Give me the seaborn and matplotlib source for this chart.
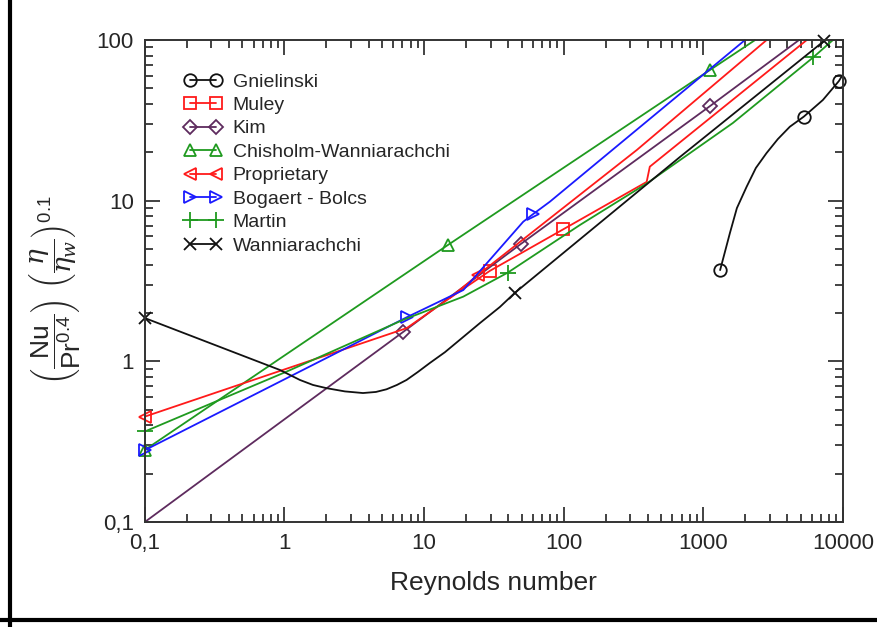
import matplotlib
matplotlib.use("Agg")
import matplotlib.pyplot as plt
import pandas as pd
import seaborn as sns
from matplotlib.lines import Line2D
from matplotlib.ticker import FixedLocator, FixedFormatter, LogLocator, NullFormatter

# values (Reynolds number vs. Nusselt group)
gnielinski_re = [1320, 1429, 1552, 1741, 2042, 2381, 2838, 3420, 4170, 5250, 7190, 9360, 9770]
gnielinski_nu = [3.7, 4.8, 6.3, 9.0, 12.2, 16.0, 19.8, 24.2, 28.9, 33.4, 42.4, 55.6, 59.1]
gnielinski_marks = [0, 9, 11]

muley_re = [15.3, 29.6, 99.3, 393, 414, 5500]
muley_nu = [2.48, 3.66, 6.64, 13.1, 16.3, 100]
muley_marks = [1, 2]

kim_re = [0.1, 7.05, 49.3, 1115, 4840]
kim_nu = [0.1, 1.52, 5.38, 38.8, 100]
kim_marks = [1, 2, 3]

chisholm_re = [0.1, 14.8, 1115, 2345]
chisholm_nu = [0.281, 5.3, 65.1, 100]
chisholm_marks = [0, 1, 2]

prop_re = [0.1, 7.5, 15.3, 24.3, 334, 2838]
prop_nu = [0.453, 1.61, 2.48, 3.45, 20.7, 100]
prop_marks = [0, 3]

bogaert_re = [0.1, 7.5, 19.1, 51.3, 60.4, 79.6, 1986]
bogaert_nu = [0.28, 1.88, 2.78, 7.4, 8.26, 9.86, 100]
bogaert_marks = [0, 1, 4]

martin_re = [0.1, 1.035, 7.05, 19.1, 39.8, 130.6, 393, 1630, 6120, 8470]
martin_nu = [0.366, 0.863, 1.81, 2.53, 3.57, 7.06, 12.8, 30.5, 78.0, 100]
martin_marks = [0, 4, 8]

wann_re = [0.1, 0.927, 1.29, 1.60, 2.0, 2.71, 3.65, 4.52, 5.38, 6.39, 7.49, 9.03,
           11.0, 14.1, 18.0, 25.1, 34.9, 44.7, 679, 7310]
wann_nu = [1.86, 0.884, 0.766, 0.713, 0.681, 0.650, 0.635, 0.645, 0.67, 0.713, 0.766, 0.859,
           0.977, 1.14, 1.36, 1.73, 2.18, 2.67, 18.7, 98.6]
wann_marks = [0, 17, 19]

x_ticks = [0.1, 1, 10, 100, 1000, 10000]
x_labels = ["0,1", "1", "10", "100", "1000", "10000"]
y_ticks = [0.1, 1, 10, 100]
y_labels = ["0,1", "1", "10", "100"]

RED = "#ff1a1a"
GREEN = "#1f9a1f"
BLUE = "#1a1aff"
PURPLE = "#5e2b5e"
BLACK = "#111111"

series = [
    ("Gnielinski", gnielinski_re, gnielinski_nu, gnielinski_marks, BLACK, "o", 9),
    ("Muley", muley_re, muley_nu, muley_marks, RED, "s", 8.5),
    ("Kim", kim_re, kim_nu, kim_marks, PURPLE, "D", 7),
    ("Chisholm-Wanniarachchi", chisholm_re, chisholm_nu, chisholm_marks, GREEN, "^", 9),
    ("Proprietary", prop_re, prop_nu, prop_marks, RED, "<", 9),
    ("Bogaert - Bolcs", bogaert_re, bogaert_nu, bogaert_marks, BLUE, ">", 9),
    ("Martin", martin_re, martin_nu, martin_marks, GREEN, "+", 11),
    ("Wanniarachchi", wann_re, wann_nu, wann_marks, BLACK, "x", 8),
]

sns.set_theme(style="ticks")
plt.rcParams["font.family"] = ["Liberation Sans", "DejaVu Sans"]
plt.rcParams["mathtext.fontset"] = "custom"
plt.rcParams["mathtext.rm"] = "Liberation Sans"
plt.rcParams["mathtext.it"] = "DejaVu Serif:italic"

fig = plt.figure(figsize=(8.78, 6.27), dpi=100)
ax = fig.add_axes([0.165, 0.1675, 0.795, 0.7685])

handles = []
for name, re, nu, marks, color, mk, ms in series:
    df = pd.DataFrame({"Re": re, "Nu": nu})
    sns.lineplot(data=df, x="Re", y="Nu", ax=ax, color=color, lw=1.3,
                 sort=False, estimator=None, marker=mk, markevery=marks,
                 markersize=ms, markerfacecolor="none", markeredgecolor=color,
                 markeredgewidth=1.3, clip_on=False)
    handles.append(Line2D([], [], color=color, lw=1.3, marker=mk, markersize=ms,
                          markerfacecolor="none", markeredgecolor=color,
                          markeredgewidth=1.3, label=name))

ax.set_xscale("log")
ax.set_yscale("log")
ax.set_xlim(0.1, 10000)
ax.set_ylim(0.1, 100)

ax.xaxis.set_major_locator(FixedLocator(x_ticks))
ax.xaxis.set_major_formatter(FixedFormatter(x_labels))
ax.yaxis.set_major_locator(FixedLocator(y_ticks))
ax.yaxis.set_major_formatter(FixedFormatter(y_labels))
ax.xaxis.set_minor_locator(LogLocator(base=10, subs=range(2, 10)))
ax.yaxis.set_minor_locator(LogLocator(base=10, subs=range(2, 10)))
ax.xaxis.set_minor_formatter(NullFormatter())
ax.yaxis.set_minor_formatter(NullFormatter())

ax.tick_params(which="both", direction="in", top=True, right=True,
               color="#222222", width=1.2)
ax.tick_params(which="major", length=11, labelsize=16, pad=8)
ax.tick_params(which="minor", length=6)
for sp in ax.spines.values():
    sp.set_color("#333333")
    sp.set_linewidth(1.4)

ax.set_xlabel("Reynolds number", fontsize=19, labelpad=12)
ax.set_ylabel(r"$\left(\dfrac{\mathrm{Nu}}{\mathrm{Pr}^{0.4}}\right)\ \left(\dfrac{\eta}{\eta_w}\right)^{0.1}$",
              fontsize=19, va="center")
ax.yaxis.set_label_coords(-0.128, 0.48)

ax.legend(handles=handles, loc="upper left", bbox_to_anchor=(0.045, 0.948),
          frameon=False, numpoints=2, handlelength=1.95, fontsize=14,
          labelspacing=0.3, handletextpad=0.55, borderaxespad=0)

# frame around the whole picture, like the screenshot
fig.add_artist(Line2D([0.011, 0.011], [0.0, 1.0], transform=fig.transFigure,
                      color="black", lw=3))
fig.add_artist(Line2D([0.0, 1.0], [0.011, 0.011], transform=fig.transFigure,
                      color="black", lw=3))

fig.savefig("out.png", dpi=100)
